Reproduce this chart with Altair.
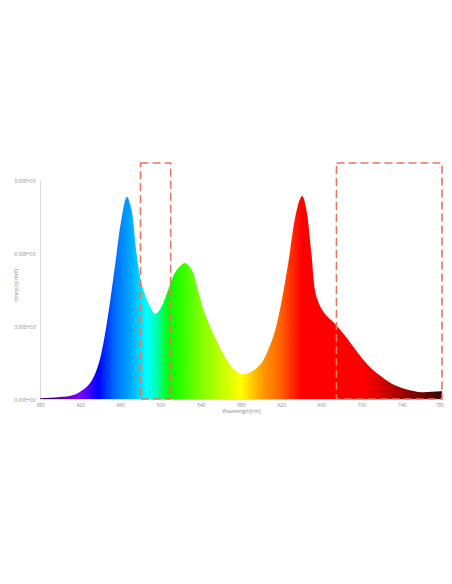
import altair as alt
import pandas as pd

# Spectrum
wavelength = [380, 390, 400, 408, 418, 428, 435, 441, 448, 455, 461, 466.5, 471, 476, 481, 488, 495,
              501, 507.6, 514, 521, 524, 531, 537, 544, 554, 564, 574, 582, 590, 600, 607, 614,
              620, 627, 633.5, 638.5, 641, 645, 650, 655, 663, 673, 683, 693, 706.5, 720, 733,
              746, 759.5, 770, 780]
intensity = [28, 50, 80, 110, 250, 560, 1050, 1870, 3520, 5590, 7380, 8310, 7790, 6000, 4760, 3940, 3500,
             3800, 4490, 5170, 5520, 5590, 5310, 4490, 3520, 2560, 1730, 1180, 1020, 1110, 1460, 2010, 2830,
             3940, 5590, 7380, 8200, 8340, 7790, 6000, 4210, 3520, 3110, 2630, 2080, 1390, 910, 560,
             385, 280, 300, 320]

# Dashed highlight boxes
box_start = [480, 675]
box_end = [510, 780]
box_top = [9700, 9700]
box_bottom = [0, 0]

y_ticks = [0, 3000, 6000, 9000]
x_ticks = list(range(380, 781, 20))

spectrum = pd.DataFrame({"nm": wavelength, "val": intensity})
boxes = pd.DataFrame({"x": box_start, "x2": box_end, "y": box_bottom, "y2": box_top})

# colour stops of the spectral fill (wavelength, colour)
stop_nm = [380, 400, 420, 438, 455, 470, 486, 495, 508, 540, 560, 580, 600, 620, 640, 700, 720, 740, 760, 780]
stop_col = ["#2a0040", "#5a00a0", "#8000ff", "#0000ff", "#0070ff", "#00a8ff", "#00ffff", "#00ffc0",
            "#00ff00", "#80ff00", "#c0ff00", "#ffff00", "#ffa000", "#ff6000", "#ff0000", "#ff0000",
            "#d80000", "#a00000", "#700000", "#3a0000"]
grad = alt.Gradient(
    gradient="linear",
    stops=[alt.GradientStop(offset=(n - 380) / 400, color=c) for n, c in zip(stop_nm, stop_col)],
    x1=0, x2=1, y1=0, y2=0,
)

x_scale = alt.Scale(domain=[380, 780], nice=False, zero=False)
y_scale = alt.Scale(domain=[0, 9000], nice=False)

area = alt.Chart(spectrum).mark_area(interpolate="catmull-rom", color=grad).encode(
    x=alt.X("nm:Q", scale=x_scale,
            axis=alt.Axis(values=x_ticks, title="Wavelength[nm]", grid=False, ticks=False,
                          domainColor="#d9d9d9", labelFontSize=5, labelColor="#8c8c8c",
                          titleFontSize=5, titleColor="#8c8c8c", titleFontWeight="normal",
                          labelPadding=3, titlePadding=1, labelFlush=False,
                          labelAlign=alt.ExprRef(expr="datum.value == 780 ? 'right' : 'center'"),
                          labelOffset=alt.ExprRef(expr="datum.value == 780 ? 2 : 0"))),
    y=alt.Y("val:Q", scale=y_scale,
            axis=alt.Axis(values=y_ticks, title="Intensity[mW]", grid=False, ticks=False,
                          domainColor="#d9d9d9", labelFontSize=5, labelColor="#8c8c8c",
                          titleFontSize=5, titleColor="#8c8c8c", titleFontWeight="normal",
                          labelPadding=5, titleX=-22, titleY=105,
                          labelExpr="datum.value == 0 ? '0.00E+00' : format(datum.value/1000, '.2f') + 'E+03'")),
)

rects = alt.Chart(boxes).mark_rect(
    fillOpacity=0, stroke="#e8765e", strokeWidth=1.6, strokeDash=[8, 4], clip=False
).encode(
    x=alt.X("x:Q", scale=x_scale),
    x2="x2:Q",
    y=alt.Y("y:Q", scale=y_scale),
    y2="y2:Q",
)

chart = alt.layer(area, rects).properties(
    width=402, height=219,
    autosize=alt.AutoSizeParams(type="none"),
    padding={"left": 32, "top": 172, "right": 2, "bottom": 24},
).configure(font="Open Sans", view=alt.ViewConfig(stroke=None))

chart.save("out.html", embed_options={"renderer": "svg", "actions": False})
